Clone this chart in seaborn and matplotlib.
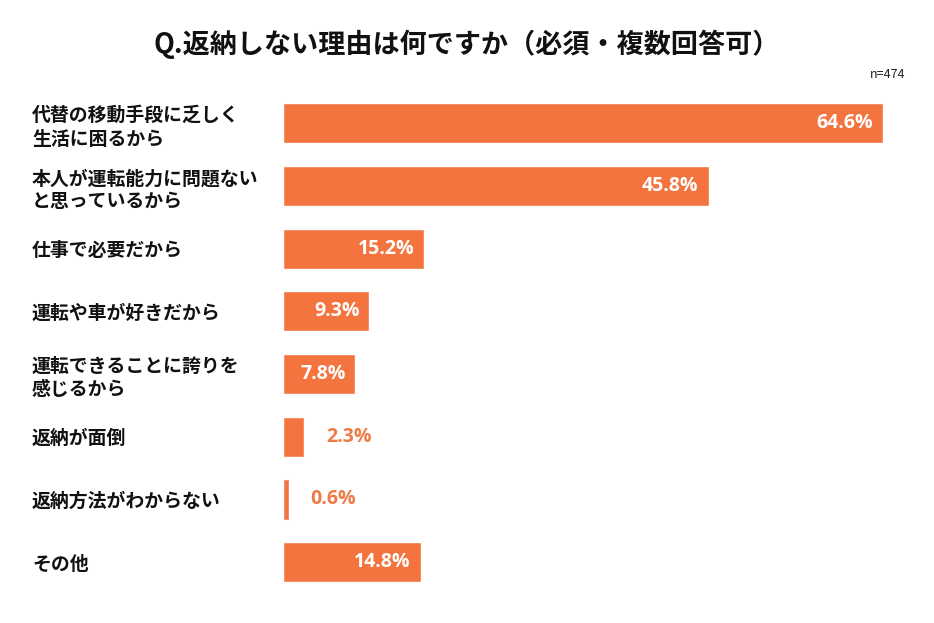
import matplotlib
matplotlib.use("Agg")
import matplotlib.pyplot as plt
import seaborn as sns
import pandas as pd

categories = [
    "代替の移動手段に乏しく\n生活に困るから",
    "本人が運転能力に問題ない\nと思っているから",
    "仕事で必要だから",
    "運転や車が好きだから",
    "運転できることに誇りを\n感じるから",
    "返納が面倒",
    "返納方法がわからない",
    "その他",
]
values = [64.6, 45.8, 15.2, 9.3, 7.8, 2.3, 0.6, 14.8]
title = "Q.返納しない理由は何ですか（必須・複数回答可）"
note = "n=474"

sns.set_theme(style="white")
plt.rcParams['font.family'] = ['Noto Sans CJK JP', 'DejaVu Sans']

W, H = 934, 623
fig = plt.figure(figsize=(W / 100, H / 100), dpi=100)
ax = fig.add_axes([283 / W, (H - 593.5) / H, (900 - 283) / W, 501.5 / H])

df = pd.DataFrame({"cat": categories, "val": values})
bar_color = "#F47440"
sns.barplot(data=df, x="val", y="cat", orient="h", color=bar_color,
            width=0.64, saturation=1, ax=ax)

ax.set_xlim(0, 66.4)
ax.set_ylim(7.5, -0.5)
ax.set_xlabel("")
ax.set_ylabel("")
ax.set_xticks([])
for s in ax.spines.values():
    s.set_visible(False)

ax.tick_params(axis="y", length=0, pad=(283 - 32) * 0.72)
for t in ax.get_yticklabels():
    t.set_ha("left")
    t.set_fontsize(13.6)
    t.set_fontweight("bold")
    t.set_color("#111111")
    t.set_linespacing(1.28)

px = 66.4 / (900 - 283)
num_font = ['Open Sans', 'Noto Sans CJK JP']
for i, v in enumerate(values):
    if v >= 5:
        ax.text(v - 10 * px, i, f"{v}%", ha="right", va="center",
                color="white", fontsize=14, fontweight="bold", family=num_font)
    else:
        ax.text(v + 22 * px, i, f"{v}%", ha="left", va="center",
                color="#EE7A45", fontsize=14, fontweight="bold", family=num_font)

fig.text(467 / W, 1 - 44 / H, title, ha="center", va="center",
         fontsize=19.5, fontweight="bold", color="#111111")
fig.text(905 / W, 1 - 75 / H, note, ha="right", va="center",
         fontsize=9, color="#222222")

fig.savefig("out.png", dpi=100)
